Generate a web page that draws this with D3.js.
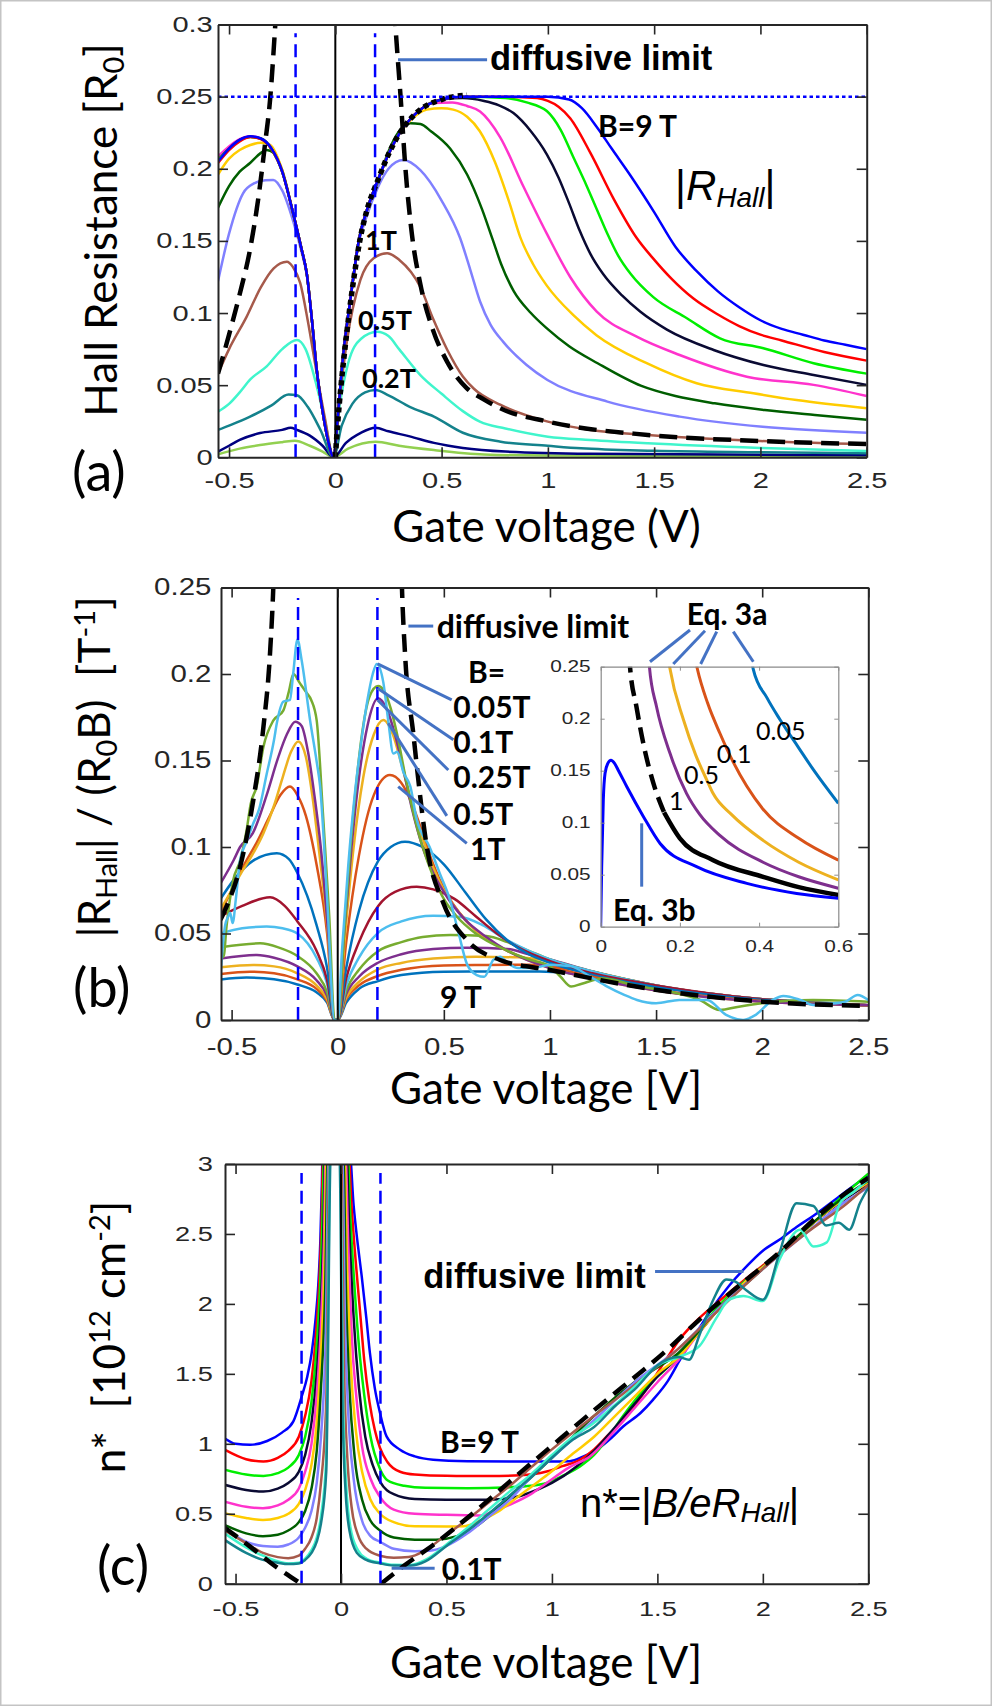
<!DOCTYPE html>
<html><head><meta charset="utf-8">
<script src="https://cdnjs.cloudflare.com/ajax/libs/d3/7.8.5/d3.min.js"></script>
<style>body{margin:0;background:#fff}svg{display:block}</style>
</head><body>
<script>
// ================= DATA =================
const xTicks=[-0.5,0,0.5,1,1.5,2,2.5];
const aYTicks=[0,0.05,0.1,0.15,0.2,0.25,0.3];
const bYTicks=[0,0.05,0.1,0.15,0.2,0.25];
const cYTicks=[0,0.5,1,1.5,2,2.5,3];
const insXTicks=[0,0.2,0.4,0.6];
const insYTicks=[0,0.05,0.1,0.15,0.2,0.25];
const vDashX=[-0.187,0.187];

// ---- panel (a): |R_Hall| [R0] vs gate voltage ----
const a9=[[-0.552,0.205],[-0.5,0.214],[-0.45,0.22],[-0.4,0.2225],[-0.35,0.221],[-0.3,0.214],[-0.25,0.198],[-0.2,0.17],[-0.16,0.145],[-0.134,0.127],[-0.11,0.095],[-0.087,0.06],[-0.06,0.032],[-0.035,0.012],[-0.008,0],[0.01,0.025],[0.024,0.05],[0.04,0.075],[0.062,0.1],[0.085,0.125],[0.11,0.15],[0.15,0.172],[0.2,0.192],[0.25,0.21],[0.3,0.224],[0.35,0.234],[0.4,0.241],[0.5,0.248],[0.6,0.25],[0.8,0.25],[1.0,0.25],[1.1,0.248],[1.16,0.242],[1.23,0.229],[1.3,0.214],[1.39,0.195],[1.5,0.17],[1.6,0.146],[1.7,0.129],[1.8,0.115],[1.9,0.104],[2.0,0.095],[2.1,0.089],[2.2,0.085],[2.3,0.081],[2.4,0.078],[2.5,0.075]];
const a8=[[-0.552,0.204],[-0.5,0.213],[-0.45,0.219],[-0.4,0.222],[-0.35,0.2205],[-0.3,0.2135],[-0.25,0.198],[-0.2,0.17],[-0.16,0.145],[-0.134,0.127],[-0.11,0.095],[-0.087,0.06],[-0.06,0.032],[-0.035,0.012],[-0.008,0],[0.01,0.025],[0.024,0.05],[0.04,0.075],[0.062,0.1],[0.085,0.125],[0.11,0.15],[0.15,0.172],[0.2,0.192],[0.25,0.21],[0.3,0.224],[0.35,0.234],[0.4,0.241],[0.5,0.248],[0.6,0.25],[0.8,0.25],[0.95,0.249],[1.0,0.247],[1.05,0.243],[1.105,0.235],[1.2,0.211],[1.31,0.179],[1.418,0.152],[1.5,0.137],[1.58,0.124],[1.685,0.11],[1.8,0.099],[1.9,0.091],[2.0,0.085],[2.1,0.081],[2.3,0.073],[2.5,0.067]];
const a7=[[-0.552,0.206],[-0.5,0.2135],[-0.45,0.2195],[-0.4,0.222],[-0.35,0.221],[-0.3,0.2135],[-0.25,0.198],[-0.2,0.17],[-0.16,0.145],[-0.134,0.127],[-0.11,0.095],[-0.087,0.06],[-0.06,0.032],[-0.035,0.012],[-0.008,0],[0.01,0.025],[0.024,0.05],[0.04,0.075],[0.062,0.1],[0.085,0.125],[0.11,0.15],[0.15,0.172],[0.2,0.192],[0.25,0.21],[0.3,0.224],[0.35,0.234],[0.4,0.241],[0.5,0.248],[0.6,0.25],[0.8,0.249],[0.9,0.246],[0.995,0.24],[1.06,0.227],[1.12,0.208],[1.18,0.189],[1.23,0.172],[1.28,0.155],[1.33,0.14],[1.39,0.127],[1.496,0.111],[1.654,0.0964],[1.81,0.0825],[2.014,0.0756],[2.25,0.0652],[2.5,0.058]];
const a6=[[-0.552,0.206],[-0.5,0.214],[-0.45,0.22],[-0.4,0.2222],[-0.35,0.2208],[-0.3,0.2138],[-0.25,0.198],[-0.2,0.17],[-0.16,0.145],[-0.134,0.127],[-0.11,0.095],[-0.087,0.06],[-0.06,0.032],[-0.035,0.012],[-0.008,0],[0.01,0.025],[0.024,0.05],[0.04,0.075],[0.062,0.1],[0.085,0.125],[0.11,0.15],[0.15,0.172],[0.2,0.192],[0.25,0.21],[0.3,0.224],[0.35,0.234],[0.4,0.241],[0.5,0.248],[0.6,0.249],[0.7,0.247],[0.77,0.244],[0.838,0.2386],[0.92,0.226],[0.995,0.21],[1.05,0.194],[1.1,0.176],[1.15,0.157],[1.2,0.141],[1.26,0.127],[1.35,0.112],[1.434,0.101],[1.56,0.0885],[1.78,0.0744],[2.014,0.064],[2.25,0.0571],[2.5,0.0502]];
const a5=[[-0.552,0.2085],[-0.5,0.2155],[-0.45,0.2205],[-0.4,0.2225],[-0.35,0.221],[-0.3,0.214],[-0.25,0.198],[-0.2,0.17],[-0.16,0.145],[-0.134,0.127],[-0.11,0.095],[-0.087,0.06],[-0.06,0.032],[-0.035,0.012],[-0.008,0],[0.01,0.025],[0.024,0.05],[0.04,0.075],[0.062,0.1],[0.085,0.125],[0.11,0.15],[0.15,0.172],[0.2,0.192],[0.25,0.21],[0.3,0.224],[0.35,0.234],[0.4,0.241],[0.46,0.2455],[0.55,0.246],[0.62,0.2435],[0.681,0.2397],[0.775,0.222],[0.885,0.1877],[0.995,0.155],[1.105,0.125],[1.23,0.101],[1.418,0.0836],[1.62,0.0709],[1.936,0.0559],[2.25,0.0502],[2.5,0.0425]];
const a4=[[-0.552,0.196],[-0.5,0.207],[-0.45,0.213],[-0.4,0.2165],[-0.35,0.218],[-0.307,0.2166],[-0.25,0.199],[-0.2,0.17],[-0.16,0.145],[-0.134,0.127],[-0.11,0.095],[-0.087,0.06],[-0.06,0.032],[-0.035,0.012],[-0.008,0],[0.01,0.025],[0.024,0.05],[0.04,0.075],[0.062,0.1],[0.085,0.125],[0.11,0.15],[0.15,0.172],[0.2,0.192],[0.25,0.21],[0.3,0.224],[0.35,0.233],[0.43,0.241],[0.5,0.242],[0.555,0.241],[0.62,0.236],[0.68,0.226],[0.75,0.205],[0.82,0.176],[0.869,0.153],[0.93,0.134],[0.995,0.119],[1.12,0.0985],[1.23,0.0845],[1.465,0.0652],[1.7,0.0513],[1.967,0.0444],[2.17,0.0397],[2.5,0.034]];
const a3=[[-0.552,0.173],[-0.5,0.188],[-0.45,0.198],[-0.401,0.204],[-0.35,0.211],[-0.323,0.213],[-0.29,0.211],[-0.25,0.199],[-0.2,0.17],[-0.16,0.145],[-0.134,0.127],[-0.11,0.095],[-0.087,0.06],[-0.06,0.032],[-0.035,0.012],[-0.008,0],[0.01,0.025],[0.024,0.05],[0.04,0.075],[0.062,0.1],[0.085,0.125],[0.11,0.15],[0.15,0.172],[0.2,0.191],[0.25,0.212],[0.3,0.226],[0.352,0.2316],[0.4,0.231],[0.45,0.226],[0.54,0.214],[0.62,0.196],[0.69,0.172],[0.74,0.151],[0.78,0.134],[0.84,0.115],[0.92,0.1],[0.998,0.089],[1.1,0.077],[1.234,0.0652],[1.44,0.0495],[1.6,0.0425],[1.785,0.0374],[2.02,0.0328],[2.256,0.0293],[2.5,0.026]];
const a2=[[-0.552,0.122],[-0.5,0.155],[-0.434,0.183],[-0.38,0.19],[-0.33,0.192],[-0.292,0.1923],[-0.25,0.185],[-0.197,0.163],[-0.16,0.143],[-0.134,0.126],[-0.11,0.095],[-0.087,0.06],[-0.06,0.032],[-0.035,0.012],[-0.008,0],[0.01,0.025],[0.024,0.05],[0.04,0.075],[0.062,0.1],[0.085,0.125],[0.11,0.148],[0.15,0.168],[0.2,0.187],[0.25,0.2],[0.32,0.206],[0.4,0.199],[0.5,0.178],[0.587,0.152],[0.635,0.13],[0.681,0.108],[0.73,0.092],[0.79,0.08],[0.9,0.064],[0.998,0.0536],[1.28,0.0386],[1.62,0.0282],[2.01,0.0212],[2.5,0.0171]];
const a1=[[-0.552,0.058],[-0.5,0.075],[-0.417,0.0975],[-0.35,0.118],[-0.29,0.131],[-0.228,0.1356],[-0.2,0.132],[-0.165,0.1207],[-0.13,0.095],[-0.087,0.058],[-0.05,0.028],[-0.008,0],[0.02,0.04],[0.055,0.081],[0.118,0.123],[0.18,0.138],[0.244,0.1415],[0.3,0.137],[0.4,0.118],[0.46,0.096],[0.527,0.0744],[0.6,0.056],[0.652,0.0475],[0.778,0.0363],[1.0,0.0247],[1.2,0.019],[1.47,0.0155],[2.0,0.0113],[2.5,0.009]];
const a05=[[-0.552,0.0316],[-0.5,0.037],[-0.45,0.045],[-0.4,0.054],[-0.323,0.063],[-0.25,0.075],[-0.181,0.0813],[-0.14,0.075],[-0.087,0.049],[-0.05,0.026],[-0.008,0],[0.02,0.035],[0.06,0.065],[0.12,0.082],[0.197,0.087],[0.25,0.084],[0.3,0.075],[0.4,0.057],[0.5,0.044],[0.6,0.032],[0.68,0.0247],[0.8,0.02],[1.0,0.0143],[1.2,0.012],[1.47,0.0097],[2.0,0.0065],[2.5,0.0044]];
const a02=[[-0.552,0.019],[-0.5,0.022],[-0.401,0.0282],[-0.3,0.036],[-0.22,0.0435],[-0.181,0.043],[-0.13,0.035],[-0.07,0.019],[-0.008,0],[0.03,0.022],[0.08,0.037],[0.14,0.045],[0.189,0.0467],[0.25,0.043],[0.35,0.035],[0.464,0.0282],[0.6,0.017],[0.778,0.0108],[1.0,0.008],[1.156,0.0062],[1.5,0.0045],[2.0,0.0035],[2.5,0.0028]];
const a01=[[-0.552,0.0039],[-0.5,0.008],[-0.45,0.012],[-0.354,0.0168],[-0.25,0.019],[-0.21,0.0205],[-0.18,0.019],[-0.12,0.015],[-0.06,0.008],[-0.008,0],[0.05,0.01],[0.12,0.017],[0.189,0.0205],[0.25,0.018],[0.35,0.0145],[0.464,0.01],[0.6,0.0065],[0.8,0.004],[1.2,0.0025],[2.5,0.0015]];
const a005=[[-0.552,0.002],[-0.45,0.006],[-0.354,0.0085],[-0.25,0.0105],[-0.19,0.0115],[-0.12,0.008],[-0.06,0.004],[-0.008,0],[0.06,0.006],[0.19,0.0108],[0.3,0.008],[0.464,0.005],[0.7,0.002],[1.0,0.0012],[2.5,0.0008]];
const aDiffL=[[-0.552,0.058],[-0.5,0.085],[-0.45,0.113],[-0.4,0.145],[-0.36,0.182],[-0.33,0.218],[-0.307,0.2478],[-0.283,0.2987],[-0.27,0.33]];
const aDiffR=[[0.27,0.33],[0.283,0.2987],[0.307,0.25],[0.33,0.2],[0.36,0.155],[0.4,0.12],[0.46,0.088],[0.527,0.066],[0.618,0.048],[0.7,0.04],[0.775,0.034],[1.0,0.0247],[1.47,0.0155],[2.0,0.0113],[2.5,0.0092]];
const aEnvelope=[[0,0],[0.012,0.025],[0.027,0.05],[0.045,0.075],[0.065,0.1],[0.088,0.125],[0.115,0.15],[0.15,0.172],[0.2,0.192],[0.25,0.21],[0.3,0.224],[0.35,0.234],[0.4,0.241],[0.5,0.248],[0.62,0.251]];
const aSeries=[a005,a01,a02,a05,a1,a2,a3,a4,a5,a6,a7,a8,a9];
const aColors=["#92d050","#000080","#14828c","#40f5cc","#a65a4b","#8080ff","#005e00","#ffcc00","#ff33cc","#0a0a33","#00ee00","#ff0000","#0000ff"];

// ---- panel (b): |R_Hall|/(R0 B) [1/T] ----
const b9=[[-0.552,0.0234],[-0.43,0.0245],[-0.3,0.0235],[-0.19,0.0205],[-0.1,0.016],[-0.05,0.01],[-0.015,0],[0,0],[0.04,0.01],[0.1,0.018],[0.19,0.0225],[0.3,0.026],[0.5,0.0279],[0.7,0.028],[0.95,0.028],[1.1,0.027],[1.3,0.024],[1.6,0.0154],[2.0,0.012],[2.5,0.0085]];
const b8=[[-0.552,0.0265],[-0.413,0.0279],[-0.3,0.027],[-0.19,0.0235],[-0.1,0.018],[-0.05,0.011],[-0.015,0],[0,0],[0.04,0.012],[0.1,0.02],[0.19,0.0255],[0.3,0.029],[0.5,0.0315],[0.7,0.0318],[0.9,0.032],[1.0,0.031],[1.2,0.027],[1.5,0.0195],[2.0,0.012],[2.5,0.0085]];
const b7=[[-0.552,0.0305],[-0.398,0.0318],[-0.3,0.031],[-0.19,0.027],[-0.1,0.02],[-0.05,0.012],[-0.015,0],[0,0],[0.04,0.013],[0.1,0.022],[0.19,0.0293],[0.3,0.033],[0.45,0.0355],[0.65,0.0366],[0.85,0.0362],[1.0,0.034],[1.2,0.028],[1.5,0.02],[2.0,0.012],[2.5,0.0085]];
const b6=[[-0.552,0.0355],[-0.381,0.0376],[-0.3,0.036],[-0.19,0.031],[-0.1,0.023],[-0.05,0.014],[-0.015,0],[0,0],[0.04,0.015],[0.1,0.025],[0.19,0.0331],[0.3,0.038],[0.45,0.041],[0.61,0.0418],[0.8,0.041],[0.9,0.038],[1.0,0.035],[1.2,0.028],[1.5,0.02],[2.0,0.012],[2.5,0.0085]];
const b5=[[-0.552,0.042],[-0.366,0.0443],[-0.28,0.042],[-0.19,0.037],[-0.1,0.027],[-0.05,0.016],[-0.015,0],[0,0],[0.04,0.017],[0.1,0.029],[0.19,0.0398],[0.3,0.045],[0.4,0.048],[0.53,0.0491],[0.7,0.0485],[0.8,0.045],[0.9,0.04],[1.0,0.035],[1.2,0.028],[1.5,0.02],[2.0,0.012],[2.5,0.0085]];
const b4=[[-0.552,0.05],[-0.45,0.053],[-0.335,0.054],[-0.26,0.053],[-0.19,0.05],[-0.1,0.036],[-0.05,0.021],[-0.015,0],[0,0],[0.04,0.02],[0.1,0.036],[0.19,0.0504],[0.3,0.057],[0.45,0.0603],[0.58,0.0595],[0.68,0.055],[0.8,0.046],[0.9,0.04],[1.0,0.035],[1.2,0.028],[1.5,0.02],[2.0,0.012],[2.5,0.0085]];
const b3=[[-0.552,0.06],[-0.45,0.066],[-0.319,0.0709],[-0.25,0.066],[-0.19,0.057],[-0.1,0.04],[-0.05,0.023],[-0.015,0],[0,0],[0.04,0.024],[0.1,0.045],[0.19,0.0658],[0.27,0.074],[0.372,0.077],[0.45,0.0755],[0.55,0.07],[0.65,0.06],[0.75,0.05],[0.85,0.042],[1.0,0.034],[1.2,0.027],[1.5,0.02],[2.0,0.012],[2.5,0.0085]];
const b2=[[-0.552,0.07],[-0.49,0.081],[-0.4,0.092],[-0.287,0.0964],[-0.23,0.093],[-0.19,0.085],[-0.1,0.055],[-0.05,0.03],[-0.015,0],[0,0],[0.04,0.03],[0.1,0.063],[0.19,0.0918],[0.25,0.1],[0.317,0.1031],[0.4,0.1],[0.5,0.09],[0.6,0.074],[0.7,0.058],[0.8,0.046],[0.9,0.038],[1.0,0.033],[1.2,0.026],[1.5,0.019],[2.0,0.0115],[2.5,0.0085]];
const b1=[[-0.552,0.062],[-0.5,0.075],[-0.44,0.09],[-0.38,0.103],[-0.32,0.118],[-0.27,0.13],[-0.225,0.1349],[-0.19,0.13],[-0.15,0.118],[-0.1,0.09],[-0.05,0.05],[-0.015,0],[0,0],[0.04,0.045],[0.1,0.095],[0.17,0.13],[0.246,0.1416],[0.3,0.137],[0.35,0.125],[0.4,0.108],[0.45,0.09],[0.5,0.076],[0.6,0.058],[0.7,0.047],[0.8,0.04],[1.0,0.031],[1.2,0.025],[1.5,0.0175],[2.0,0.011],[2.5,0.0085]];
const b05=[[-0.552,0.064],[-0.5,0.075],[-0.45,0.086],[-0.4,0.096],[-0.35,0.108],[-0.3,0.124],[-0.26,0.14],[-0.22,0.155],[-0.186,0.161],[-0.15,0.152],[-0.12,0.13],[-0.09,0.1],[-0.05,0.055],[-0.015,0],[0,0],[0.035,0.05],[0.075,0.1],[0.12,0.14],[0.17,0.165],[0.215,0.1734],[0.26,0.165],[0.3,0.148],[0.35,0.125],[0.4,0.105],[0.45,0.088],[0.5,0.075],[0.6,0.058],[0.7,0.047],[0.8,0.04],[1.0,0.03],[1.2,0.024],[1.5,0.017],[2.0,0.0105],[2.5,0.0085]];
const b025=[[-0.552,0.079],[-0.49,0.0925],[-0.46,0.1],[-0.4,0.108],[-0.335,0.13],[-0.28,0.152],[-0.24,0.165],[-0.2,0.1724],[-0.17,0.17],[-0.14,0.155],[-0.11,0.13],[-0.08,0.1],[-0.045,0.05],[-0.015,0],[0,0],[0.03,0.05],[0.065,0.1],[0.1,0.14],[0.14,0.17],[0.19,0.186],[0.23,0.18],[0.27,0.165],[0.3,0.15],[0.35,0.122],[0.4,0.1],[0.45,0.085],[0.5,0.074],[0.6,0.058],[0.7,0.048],[0.8,0.04],[1.0,0.03],[1.2,0.024],[1.5,0.017],[2.0,0.0105],[2.5,0.0085]];
const b01=[[-0.552,0.037],[-0.538,0.0366],[-0.524,0.054],[-0.492,0.081],[-0.46,0.092],[-0.429,0.11],[-0.41,0.125],[-0.382,0.135],[-0.35,0.158],[-0.304,0.173],[-0.256,0.179],[-0.23,0.19],[-0.209,0.2],[-0.18,0.195],[-0.146,0.189],[-0.125,0.185],[-0.099,0.173],[-0.07,0.12],[-0.04,0.06],[-0.015,0],[0,0],[0.03,0.05],[0.06,0.1],[0.09,0.14],[0.12,0.17],[0.15,0.187],[0.19,0.193],[0.22,0.19],[0.25,0.18],[0.28,0.165],[0.32,0.14],[0.36,0.118],[0.4,0.1],[0.45,0.083],[0.5,0.07],[0.56,0.06],[0.65,0.05],[0.8,0.04],[0.9,0.035],[1.0,0.031],[1.05,0.025],[1.1,0.0193],[1.15,0.021],[1.25,0.024],[1.4,0.02],[1.6,0.0154],[1.7,0.012],[1.8,0.0058],[1.89,0.0077],[2.0,0.0097],[2.24,0.0116],[2.5,0.0106]];
const b005=[[-0.552,0.027],[-0.54,0.045],[-0.53,0.055],[-0.515,0.06],[-0.507,0.062],[-0.495,0.056],[-0.48,0.07],[-0.46,0.0925],[-0.43,0.103],[-0.4,0.113],[-0.37,0.122],[-0.335,0.142],[-0.3,0.162],[-0.287,0.1715],[-0.256,0.184],[-0.225,0.185],[-0.21,0.2],[-0.19,0.22],[-0.17,0.208],[-0.13,0.173],[-0.1,0.15],[-0.083,0.135],[-0.05,0.07],[-0.015,0],[0,0],[0.02,0.04],[0.05,0.09],[0.08,0.13],[0.11,0.16],[0.14,0.185],[0.165,0.2],[0.184,0.2058],[0.215,0.195],[0.238,0.173],[0.262,0.154],[0.28,0.155],[0.31,0.143],[0.342,0.135],[0.372,0.116],[0.433,0.1],[0.48,0.085],[0.53,0.069],[0.57,0.05],[0.61,0.032],[0.655,0.026],[0.69,0.025],[0.733,0.0347],[0.765,0.0366],[0.8,0.033],[0.85,0.03],[0.92,0.03],[1.0,0.032],[1.1,0.031],[1.19,0.025],[1.27,0.0193],[1.35,0.0145],[1.41,0.0116],[1.5,0.0097],[1.61,0.0116],[1.74,0.0116],[1.83,0.003],[1.91,0.0],[1.97,0.003],[2.05,0.0116],[2.1,0.0139],[2.18,0.0116],[2.24,0.0087],[2.31,0.0093],[2.39,0.0105],[2.45,0.0145],[2.5,0.0116]];
const bDiffL=[[-0.552,0.058],[-0.524,0.0655],[-0.46,0.0886],[-0.398,0.127],[-0.35,0.1695],[-0.319,0.212],[-0.304,0.2486],[-0.298,0.27]];
const bDiffR=[[0.298,0.27],[0.303,0.2486],[0.317,0.212],[0.356,0.1657],[0.42,0.1],[0.498,0.0675],[0.61,0.046],[0.765,0.0347],[1.0,0.0289],[1.456,0.0183],[2.0,0.0106],[2.5,0.0081]];
const bSeries=[b9,b8,b7,b6,b5,b4,b3,b2,b1,b05,b025,b01,b005];
const bColors=["#0072bd","#d95319","#edb120","#7e2f8e","#77ac30","#4dbeee","#a2142f","#0072bd","#d95319","#edb120","#7e2f8e","#77ac30","#4dbeee"];

// ---- inset (Eq. 3a / 3b) ----
const insBlue=[[0,0],[0.0025,0.058],[0.0066,0.122],[0.011,0.1475],[0.018,0.157],[0.026,0.16],[0.035,0.157],[0.045,0.15],[0.066,0.1346],[0.108,0.1058],[0.15,0.08],[0.242,0.0577],[0.369,0.0417],[0.495,0.032],[0.6,0.0273]];
const insBlackDash=[[0.072,0.26],[0.074,0.25],[0.09,0.212],[0.11,0.172],[0.133,0.138],[0.16,0.11]];
const insBlackSolid=[[0.16,0.11],[0.2,0.085],[0.284,0.064],[0.41,0.048],[0.5,0.038],[0.6,0.0305]];
const insPurple=[[0.121,0.26],[0.123,0.25],[0.141,0.2115],[0.175,0.1667],[0.217,0.128],[0.25,0.108],[0.3,0.088],[0.41,0.062],[0.5,0.048],[0.6,0.037]];
const insGold=[[0.172,0.255],[0.175,0.248],[0.209,0.199],[0.24,0.165],[0.268,0.141],[0.284,0.128],[0.33,0.108],[0.41,0.083],[0.5,0.062],[0.6,0.045]];
const insOrange=[[0.24,0.255],[0.244,0.248],[0.27,0.215],[0.301,0.186],[0.335,0.158],[0.369,0.135],[0.41,0.113],[0.5,0.085],[0.6,0.064]];
const insTeal=[[0.382,0.255],[0.385,0.248],[0.42,0.22],[0.453,0.199],[0.5,0.172],[0.537,0.151],[0.6,0.1187]];

// ---- panel (c): n* [1e12 cm^-2] ----
const c9=[[-0.552,1.04],[-0.5,1.0],[-0.431,0.993],[-0.35,1.02],[-0.28,1.08],[-0.226,1.16],[-0.186,1.34],[-0.16,1.48],[-0.139,1.65],[-0.12,1.9],[-0.108,2.13],[-0.098,2.45],[-0.091,2.84],[-0.087,3.1],[0.04,3.1],[0.06,2.7],[0.08,2.42],[0.098,2.2],[0.12,1.9],[0.137,1.65],[0.16,1.4],[0.185,1.22],[0.216,1.053],[0.28,0.958],[0.35,0.91],[0.437,0.886],[0.6,0.876],[0.8,0.874],[1.0,0.874],[1.085,0.876],[1.15,0.91],[1.212,0.958],[1.28,1.04],[1.339,1.125],[1.42,1.22],[1.48,1.316],[1.55,1.45],[1.607,1.6],[1.7,1.83],[1.765,1.98],[1.84,2.13],[1.924,2.27],[2.0,2.38],[2.08,2.46],[2.16,2.55],[2.24,2.63],[2.32,2.72],[2.4,2.81],[2.5,2.92]];
const c8=[[-0.552,0.958],[-0.45,0.89],[-0.368,0.874],[-0.3,0.9],[-0.25,0.95],[-0.2,1.05],[-0.17,1.2],[-0.14,1.45],[-0.12,1.75],[-0.105,2.1],[-0.093,2.55],[-0.084,3.1],[0.035,3.1],[0.05,2.7],[0.07,2.3],[0.09,1.95],[0.11,1.6],[0.135,1.3],[0.16,1.1],[0.185,0.97],[0.22,0.87],[0.28,0.8],[0.35,0.78],[0.5,0.771],[0.7,0.77],[0.85,0.775],[0.975,0.802],[1.05,0.84],[1.133,0.886],[1.2,0.96],[1.26,1.053],[1.354,1.196],[1.42,1.33],[1.48,1.46],[1.54,1.6],[1.607,1.75],[1.7,1.9],[1.8,2.03],[1.92,2.18],[2.08,2.37],[2.24,2.58],[2.4,2.77],[2.5,2.87]];
const c7=[[-0.552,0.815],[-0.45,0.78],[-0.368,0.77],[-0.3,0.79],[-0.25,0.83],[-0.2,0.92],[-0.17,1.05],[-0.14,1.3],[-0.12,1.6],[-0.1,2.1],[-0.088,2.6],[-0.08,3.1],[0.03,3.1],[0.045,2.6],[0.065,2.1],[0.085,1.7],[0.11,1.35],[0.14,1.05],[0.185,0.82],[0.22,0.74],[0.3,0.7],[0.4,0.685],[0.6,0.683],[0.8,0.69],[0.9,0.7],[0.975,0.72],[1.05,0.77],[1.133,0.838],[1.2,0.92],[1.26,1.03],[1.338,1.2],[1.45,1.41],[1.55,1.55],[1.607,1.65],[1.7,1.82],[1.8,2.0],[1.92,2.17],[2.08,2.36],[2.24,2.58],[2.4,2.8],[2.5,2.93]];
const c6=[[-0.552,0.707],[-0.45,0.67],[-0.368,0.659],[-0.3,0.68],[-0.25,0.72],[-0.2,0.8],[-0.17,0.92],[-0.14,1.15],[-0.115,1.5],[-0.095,2.0],[-0.082,2.6],[-0.075,3.1],[0.025,3.1],[0.04,2.5],[0.06,1.9],[0.085,1.4],[0.115,1.05],[0.15,0.85],[0.185,0.73],[0.25,0.64],[0.35,0.605],[0.5,0.6],[0.7,0.6],[0.8,0.61],[0.928,0.67],[1.0,0.72],[1.117,0.838],[1.2,0.95],[1.3,1.12],[1.4,1.3],[1.5,1.48],[1.6,1.62],[1.7,1.8],[1.8,1.98],[1.92,2.16],[2.08,2.36],[2.24,2.58],[2.4,2.76],[2.5,2.86]];
const c5=[[-0.552,0.587],[-0.45,0.55],[-0.37,0.54],[-0.3,0.56],[-0.25,0.6],[-0.2,0.68],[-0.17,0.8],[-0.14,1.0],[-0.115,1.35],[-0.095,1.85],[-0.08,2.5],[-0.072,3.1],[0.02,3.1],[0.035,2.4],[0.05,1.8],[0.075,1.3],[0.1,0.98],[0.14,0.75],[0.185,0.62],[0.25,0.53],[0.35,0.5],[0.5,0.492],[0.66,0.488],[0.74,0.53],[0.817,0.576],[0.9,0.64],[0.975,0.72],[1.08,0.83],[1.18,0.91],[1.29,1.08],[1.4,1.27],[1.5,1.44],[1.6,1.6],[1.7,1.8],[1.8,1.98],[1.92,2.16],[2.08,2.36],[2.24,2.58],[2.4,2.77],[2.5,2.87]];
const c4=[[-0.552,0.504],[-0.45,0.47],[-0.37,0.456],[-0.3,0.47],[-0.25,0.5],[-0.2,0.57],[-0.17,0.67],[-0.14,0.85],[-0.115,1.15],[-0.095,1.65],[-0.078,2.3],[-0.068,3.1],[0.015,3.1],[0.03,2.2],[0.045,1.6],[0.07,1.1],[0.1,0.8],[0.14,0.6],[0.185,0.5],[0.25,0.44],[0.35,0.41],[0.5,0.408],[0.58,0.41],[0.66,0.45],[0.75,0.52],[0.82,0.6],[0.9,0.69],[0.98,0.78],[1.1,0.93],[1.2,1.05],[1.3,1.2],[1.4,1.35],[1.5,1.5],[1.6,1.62],[1.7,1.8],[1.8,1.98],[1.92,2.16],[2.08,2.36],[2.24,2.58],[2.4,2.77],[2.5,2.87]];
const c3=[[-0.552,0.42],[-0.45,0.36],[-0.37,0.34],[-0.3,0.35],[-0.25,0.38],[-0.2,0.44],[-0.17,0.52],[-0.14,0.68],[-0.115,0.95],[-0.095,1.4],[-0.075,2.1],[-0.062,3.1],[0.01,3.1],[0.025,2.0],[0.04,1.4],[0.065,0.9],[0.1,0.6],[0.14,0.45],[0.185,0.38],[0.25,0.33],[0.35,0.315],[0.45,0.315],[0.55,0.34],[0.65,0.42],[0.8,0.62],[1.0,0.9],[1.2,1.2],[1.4,1.45],[1.6,1.65],[1.8,1.98],[2.0,2.25],[2.2,2.53],[2.4,2.78],[2.5,2.88]];
const c2=[[-0.552,0.4],[-0.45,0.3],[-0.37,0.27],[-0.3,0.265],[-0.25,0.28],[-0.2,0.33],[-0.17,0.4],[-0.14,0.52],[-0.115,0.72],[-0.095,1.05],[-0.072,1.8],[-0.058,3.1],[0.005,3.1],[0.02,1.8],[0.035,1.2],[0.06,0.75],[0.1,0.45],[0.14,0.34],[0.185,0.3],[0.25,0.25],[0.35,0.232],[0.42,0.235],[0.5,0.27],[0.6,0.36],[0.7,0.48],[0.8,0.6],[0.9,0.76],[1.0,0.9],[1.2,1.17],[1.4,1.45],[1.6,1.68],[1.8,1.98],[2.0,2.25],[2.2,2.5],[2.4,2.74],[2.5,2.83]];
const c1=[[-0.552,0.38],[-0.45,0.29],[-0.37,0.22],[-0.3,0.19],[-0.25,0.182],[-0.2,0.2],[-0.17,0.25],[-0.14,0.33],[-0.115,0.47],[-0.095,0.72],[-0.07,1.3],[-0.055,3.1],[0.0,3.1],[0.015,1.5],[0.03,0.9],[0.05,0.55],[0.08,0.35],[0.12,0.25],[0.185,0.2],[0.25,0.185],[0.32,0.19],[0.4,0.24],[0.5,0.35],[0.6,0.46],[0.7,0.58],[0.8,0.7],[0.9,0.83],[1.0,0.96],[1.2,1.2],[1.4,1.43],[1.6,1.68],[1.8,1.97],[2.0,2.25],[2.2,2.5],[2.4,2.72],[2.5,2.85]];
const c05=[[-0.552,0.36],[-0.45,0.26],[-0.37,0.2],[-0.3,0.16],[-0.25,0.145],[-0.2,0.15],[-0.17,0.18],[-0.14,0.24],[-0.115,0.33],[-0.095,0.48],[-0.07,0.9],[-0.05,3.1],[-0.005,3.1],[0.01,1.3],[0.025,0.7],[0.045,0.4],[0.08,0.24],[0.12,0.18],[0.185,0.15],[0.25,0.135],[0.33,0.134],[0.4,0.17],[0.5,0.28],[0.6,0.4],[0.7,0.53],[0.8,0.66],[0.9,0.78],[1.0,0.92],[1.1,1.05],[1.2,1.15],[1.3,1.28],[1.4,1.42],[1.5,1.56],[1.6,1.62],[1.7,1.7],[1.78,1.9],[1.84,2.03],[1.908,2.056],[2.0,2.02],[2.08,2.32],[2.176,2.53],[2.24,2.41],[2.303,2.44],[2.366,2.72],[2.43,2.8],[2.5,2.89]];
const c02=[[-0.552,0.313],[-0.45,0.22],[-0.37,0.17],[-0.3,0.15],[-0.25,0.14],[-0.2,0.145],[-0.17,0.17],[-0.14,0.22],[-0.115,0.3],[-0.095,0.43],[-0.07,0.8],[-0.048,3.1],[-0.008,3.1],[0.008,1.2],[0.022,0.65],[0.04,0.38],[0.075,0.22],[0.12,0.17],[0.185,0.145],[0.25,0.13],[0.33,0.13],[0.4,0.16],[0.5,0.27],[0.6,0.38],[0.7,0.5],[0.8,0.63],[0.9,0.76],[1.0,0.9],[1.1,1.03],[1.2,1.12],[1.3,1.27],[1.4,1.4],[1.5,1.56],[1.6,1.62],[1.65,1.6],[1.7,1.78],[1.765,2.03],[1.828,2.175],[1.87,2.16],[1.92,2.1],[2.0,2.03],[2.08,2.37],[2.16,2.72],[2.24,2.7],[2.3,2.56],[2.36,2.58],[2.41,2.53],[2.46,2.72],[2.5,2.83]];
const cDiffL=[[-0.552,0.4],[-0.431,0.265],[-0.32,0.134],[-0.19,0]];
const cDiffR=[[0.19,0],[0.3,0.13],[0.44,0.28],[0.67,0.56],[0.8,0.73],[0.98,0.96],[1.2,1.24],[1.33,1.4],[1.53,1.65],[1.73,1.93],[1.92,2.17],[2.08,2.37],[2.24,2.6],[2.4,2.8],[2.5,2.9]];
const cSeries=[c9,c8,c7,c6,c5,c4,c3,c2,c1,c05,c02];
const cColors=["#0000ff","#ff0000","#00ee00","#0a0a33","#ff33cc","#ffcc00","#005e00","#8080ff","#a65a4b","#40f5cc","#14828c"];

// ================= DRAWING =================
const CAL="Lato, 'Open Sans', 'DejaVu Sans', sans-serif";
const HEL="'Liberation Sans', Arial, Helvetica, sans-serif";
const AXC="#262626", LEAD="#4472c4";
const svg=d3.select("body").append("svg").attr("width",992).attr("height",1706);
svg.append("rect").attr("x",0.75).attr("y",0.75).attr("width",990.5).attr("height",1704.5)
  .attr("fill","#fff").attr("stroke","#c4c4c4").attr("stroke-width",1.5);
const defs=svg.append("defs");

function setup(id,L,R,T,B,xd,yd){
  const x=d3.scaleLinear().domain(xd).range([L,R]);
  const y=d3.scaleLinear().domain(yd).range([B,T]);
  defs.append("clipPath").attr("id","clip"+id).append("rect").attr("x",L).attr("y",T).attr("width",R-L).attr("height",B-T);
  const plot=svg.append("g").attr("clip-path",`url(#clip${id})`);
  return {x,y,L,R,T,B,plot};
}
function line(P){return d3.line().x(d=>P.x(d[0])).y(d=>P.y(d[1])).curve(d3.curveMonotoneX);}
function path(P,data,color,w,dash,g){
  const p=(g||P.plot).append("path").attr("d",line(P)(data)).attr("fill","none")
    .attr("stroke",color).attr("stroke-width",w).attr("stroke-linejoin","round");
  if(dash) p.attr("stroke-dasharray",dash);
  return p;
}
function seg(P,x1,y1,x2,y2,color,w,dash,g){
  const l=(g||svg).append("line").attr("x1",P.x(x1)).attr("y1",P.y(y1)).attr("x2",P.x(x2)).attr("y2",P.y(y2))
    .attr("stroke",color).attr("stroke-width",w);
  if(dash) l.attr("stroke-dasharray",dash);
  return l;
}
function axes(P,xt,yt,fs,padX,padY,tick,color,sw,stretch){
  const fmt=d=>String(d);
  const sty=g=>{g.attr("font-family",HEL).attr("font-size",fs).attr("color",color);
    g.selectAll("path.domain").attr("stroke-width",sw);
    g.selectAll(".tick line").attr("stroke-width",sw*0.8);
    g.selectAll(".tick text").attr("transform",`scale(${stretch},1)`).attr("fill",AXC);};
  svg.append("g").attr("transform",`translate(0,${P.B})`)
    .call(d3.axisBottom(P.x).tickValues(xt).tickFormat(fmt).tickSizeInner(-tick).tickSizeOuter(0).tickPadding(padX)).call(sty);
  svg.append("g").attr("transform",`translate(0,${P.T})`)
    .call(d3.axisTop(P.x).tickValues(xt).tickFormat("").tickSizeInner(-tick).tickSizeOuter(0)).call(sty);
  svg.append("g").attr("transform",`translate(${P.L},0)`)
    .call(d3.axisLeft(P.y).tickValues(yt).tickFormat(fmt).tickSizeInner(-tick).tickSizeOuter(0).tickPadding(padY)).call(sty);
  svg.append("g").attr("transform",`translate(${P.R},0)`)
    .call(d3.axisRight(P.y).tickValues(yt).tickFormat("").tickSizeInner(-tick).tickSizeOuter(0)).call(sty);
}
function txt(x,y,s,o){
  const t=svg.append("text").attr("x",x).attr("y",y).attr("font-family",o.f||CAL).attr("font-size",o.s)
    .attr("font-weight",o.w||"normal").attr("fill",o.c||"#000");
  if(o.a) t.attr("text-anchor",o.a);
  if(o.it) t.attr("font-style","italic");
  if(s!==null) t.text(s);
  return t;
}
function parts(t,arr){arr.forEach(p=>{const s=t.append("tspan").text(p.t);
  if(p.fs) s.attr("font-size",p.fs); if(p.dy) s.attr("dy",p.dy); if(p.it) s.attr("font-style","italic");});return t;}
function rotLabel(x,y,arr,size){
  const t=svg.append("text").attr("transform",`translate(${x},${y}) rotate(-90)`).attr("text-anchor","middle")
    .attr("font-family",CAL).attr("font-size",size).attr("fill","#000");
  return parts(t,arr);
}

// ---------- Panel (a) ----------
const PA=setup("a",218,866.7,24.5,457.3,[-0.552,2.5],[0,0.3]);
aSeries.forEach((d,i)=>path(PA,d,aColors[i],2.5));
path(PA,aDiffL,"#000",4.5,"18,9");
path(PA,aDiffR,"#000",4.5,"18,9");
path(PA,aEnvelope,"#000",5.5,"5,4");
seg(PA,-0.552,0.25,2.5,0.25,"#0000ff",2.5,"3.5,3",PA.plot);
seg(PA,0,0,0,0.3,"#000",2,null,PA.plot);
vDashX.forEach(v=>seg(PA,v,0,v,0.294,"#0000ff",2.5,"13,7",PA.plot));
axes(PA,xTicks,aYTicks,22,15,4,10,AXC,2,1.32);
seg(PA,0.295,0.2755,0.714,0.2755,LEAD,3);
txt(490,70,"diffusive limit",{f:HEL,s:34.5,w:"bold"});
txt(598,137,"B=9 T",{s:30,w:"bold"});
parts(txt(675,200,null,{f:HEL,s:42}),[{t:"|"},{t:"R",it:1},{t:"Hall",it:1,fs:28,dy:7},{t:"|",dy:-7}]);
txt(365,250,"1T",{s:27,w:"bold"});
txt(358,330,"0.5T",{s:27,w:"bold"});
txt(362,388,"0.2T",{s:27,w:"bold"});
txt(72,491,"(a)",{s:54});
rotLabel(117,230,[{t:"Hall Resistance [R"},{t:"0",fs:29,dy:7},{t:"]",dy:-7}],44);
txt(546.5,542,"Gate voltage (V)",{s:44,a:"middle"});

// ---------- Panel (b) ----------
const PB=setup("b",221,868.3,587.5,1020,[-0.55,2.5],[0,0.25]);
bSeries.forEach((d,i)=>path(PB,d,bColors[i],2.5));
path(PB,bDiffL,"#000",4.5,"18,9");
path(PB,bDiffR,"#000",4.5,"18,9");
seg(PB,0,0,0,0.25,"#000",2,null,PB.plot);
vDashX.forEach(v=>seg(PB,v,0,v,0.244,"#0000ff",2.5,"13,7",PB.plot));
axes(PB,xTicks,bYTicks,23,19,7.5,10,AXC,2,1.28);
seg(PB,0.333,0.2277,0.45,0.2277,LEAD,3);
txt(436.7,638,"diffusive limit",{s:32,w:"bold"});
txt(468,683,"B=",{s:30,w:"bold"});
[[0.188,0.2058,0.537,0.185],[0.188,0.1917,0.545,0.162],[0.188,0.185,0.521,0.1445],[0.238,0.1715,0.514,0.118],[0.285,0.1349,0.608,0.1021]]
  .forEach(l=>seg(PB,l[0],l[1],l[2],l[3],LEAD,3));
txt(453.3,718,"0.05T",{s:30,w:"bold"});
txt(453.3,753,"0.1T",{s:30,w:"bold"});
txt(453.3,788,"0.25T",{s:30,w:"bold"});
txt(453.3,825,"0.5T",{s:30,w:"bold"});
txt(470,860,"1T",{s:30,w:"bold"});
txt(440,1008,"9 T",{s:30,w:"bold"});
txt(73,1007,"(b)",{s:54});
rotLabel(110,767,[{t:"|R"},{t:"Hall",fs:29,dy:7},{t:"| / (R",dy:-7},{t:"0",fs:29,dy:7},{t:"B)\u00a0\u00a0[T",dy:-7},{t:"-1",fs:29,dy:-15},{t:"]",dy:15}],44);
txt(546,1104,"Gate voltage [V]",{s:44,a:"middle"});

// ---------- Inset ----------
const PI=setup("i",600.7,838.3,666.7,926.7,[0,0.6],[0,0.25]);
svg.insert("rect",`g[clip-path="url(#clipi)"]`).attr("x",600.7).attr("y",666.7).attr("width",237.6).attr("height",260).attr("fill","#fff");
path(PI,insTeal,"#0072bd",3);
path(PI,insOrange,"#d95319",3);
path(PI,insGold,"#edb120",3);
path(PI,insPurple,"#7e2f8e",3);
path(PI,insBlackDash,"#000",4.5,"16,8");
path(PI,insBlackSolid,"#000",4.5);
path(PI,insBlue,"#0000ff",3);
axes(PI,insXTicks,insYTicks,16,14,7.7,4,"#8a8a8a",1.2,1.3);
txt(756,740,"0.05",{s:25});
txt(716.7,763,"0.1",{s:25});
txt(684,784,"0.5",{s:25});
txt(669,810,"1",{s:25});
[[0.2255,0.2853,0.1245,0.2548],[0.2634,0.2846,0.1833,0.2526],[0.2929,0.2837,0.2525,0.2526],[0.3348,0.2837,0.3854,0.2548]]
  .forEach(l=>seg(PI,l[0],l[1],l[2],l[3],LEAD,3));
txt(686.7,625,"Eq. 3a",{s:30,w:"bold"});
seg(PI,0.1035,0.0994,0.1035,0.0385,LEAD,3);
txt(613,921,"Eq. 3b",{s:30,w:"bold"});

// ---------- Panel (c) ----------
const PC=setup("c",225,868.3,1164,1583.7,[-0.55,2.5],[0,3]);
cSeries.forEach((d,i)=>path(PC,d,cColors[i],2.5));
path(PC,cDiffL,"#000",4.5,"16,9");
path(PC,cDiffR,"#000",4.5,"16,9");
seg(PC,0,0,0,3,"#000",2,null,PC.plot);
vDashX.forEach(v=>seg(PC,v,0,v,2.935,"#0000ff",2.5,"13,7",PC.plot));
axes(PC,xTicks,cYTicks,20,18,9,10,AXC,2,1.36);
seg(PC,1.489,2.231,1.908,2.231,LEAD,3);
txt(423.3,1288,"diffusive limit",{f:HEL,s:34.5,w:"bold"});
txt(440,1453,"B=9 T",{s:30,w:"bold"});
seg(PC,0.24,0.11,0.444,0.11,LEAD,3);
txt(441.7,1580,"0.1T",{s:30,w:"bold"});
parts(txt(580,1516.7,null,{f:HEL,s:40}),[{t:"n*=|"},{t:"B/eR",it:1},{t:"Hall",it:1,fs:28,dy:5},{t:"|",dy:-5}]);
txt(97,1585,"(c)",{s:54});
rotLabel(125,1337,[{t:"n*\u00a0\u00a0[10"},{t:"12",fs:29,dy:-15},{t:" cm",dy:15},{t:"-2",fs:29,dy:-15},{t:"]",dy:15}],44);
txt(546,1678,"Gate voltage [V]",{s:44,a:"middle"});
</script>
</body></html>
